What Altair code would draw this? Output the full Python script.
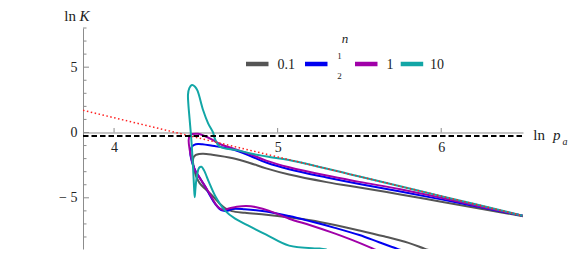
import altair as alt
import pandas as pd

# ---------------- data ----------------
X_MIN, X_MAX = 3.81, 6.5
Y_MIN, Y_MAX = -8.92, 8.0
W, H = 440, 221

series_names = ["0.1", "1/2", "1", "10"]
series_colors = ["#555555", "#0000f0", "#a000a8", "#12a6a6"]

# each curve is a parametric path: lower branch (from its clipped end) -> fold -> upper branch
x_01 = [5.95, 5.898, 5.8, 5.65, 5.5, 5.35, 5.2, 5.07, 4.93, 4.8, 4.72, 4.68, 4.646, 4.605, 4.56, 4.523,
        4.5, 4.488, 4.482, 4.486, 4.5, 4.52, 4.545, 4.6, 4.727, 4.83, 4.93, 5.07, 5.3, 5.5, 5.75, 6.0, 6.25, 6.5]
y_01 = [-9.1, -8.89, -8.45, -7.95, -7.5, -7.08, -6.72, -6.5, -6.3, -6.15, -6.02, -5.8, -5.45, -4.9, -4.35, -3.88,
        -3.3, -2.7, -2.2, -1.9, -1.72, -1.64, -1.62, -1.7, -1.97, -2.33, -2.75, -3.22, -3.8, -4.22, -4.74, -5.3, -5.85, -6.42]

x_half = [5.78, 5.729, 5.62, 5.5, 5.35, 5.2, 5.07, 4.93, 4.8, 4.727, 4.687, 4.655, 4.62, 4.59, 4.56, 4.53,
          4.5, 4.48, 4.468, 4.466, 4.475, 4.49, 4.513, 4.54, 4.6, 4.727, 4.83, 4.93, 5.07, 5.3, 5.5, 5.75, 6.0, 6.25, 6.5]
y_half = [-9.1, -8.89, -8.4, -7.85, -7.3, -6.8, -6.4, -6.05, -5.88, -5.85, -6.0, -5.95, -5.5, -4.9, -4.2, -3.6,
          -3.0, -2.4, -1.8, -1.4, -1.1, -0.95, -0.88, -0.9, -1.02, -1.3, -1.78, -2.3, -2.82, -3.45, -3.95, -4.52, -5.12, -5.75, -6.38]

x_one = [5.62, 5.583, 5.45, 5.33, 5.2, 5.07, 4.95, 4.87, 4.81, 4.75, 4.707, 4.665, 4.635, 4.605, 4.575, 4.544,
         4.515, 4.493, 4.475, 4.462, 4.456, 4.462, 4.48, 4.513, 4.55, 4.6, 4.65, 4.727, 4.83, 4.93, 5.07, 5.3, 5.5, 5.75, 6.0, 6.25, 6.5]
y_one = [-9.1, -8.89, -8.2, -7.65, -7.1, -6.6, -6.0, -5.72, -5.62, -5.68, -5.8, -5.92, -5.7, -5.15, -4.5, -3.88,
         -3.3, -2.86, -2.1, -1.3, -0.6, -0.25, -0.12, -0.1, -0.25, -0.55, -0.9, -1.22, -1.65, -2.15, -2.66, -3.3, -3.78, -4.35, -5.0, -5.7, -6.37]

x_ten = [5.3, 5.257, 5.07, 4.93, 4.83, 4.74, 4.68, 4.62, 4.58, 4.55, 4.534, 4.52, 4.508, 4.498, 4.493,
         4.489, 4.482, 4.472, 4.462, 4.454, 4.452, 4.46, 4.476, 4.495, 4.51, 4.544, 4.575, 4.605, 4.615, 4.646,
         4.75, 4.85, 4.95, 5.07, 5.5, 6.0, 6.5]
y_ten = [-8.95, -8.89, -8.66, -7.82, -7.19, -6.6, -6.0, -4.9, -3.8, -2.9, -2.62, -2.7, -3.2, -4.2, -4.95,
         -4.2, -2.5, -0.5, 1.0, 2.2, 2.9, 3.4, 3.63, 3.5, 3.2, 1.72, 0.7, 0.0, -0.44, -1.08,
         -1.35, -1.65, -1.87, -2.1, -3.37, -4.87, -6.37]

# red dotted asymptote and black dashed level
red_x = [3.81, 6.5]
red_y = [1.70, -6.37]
dash_x = [3.81, 6.5]
dash_y = [-0.27, -0.27]

# axis ticks
x_major_ticks = [4, 5, 6]
y_major_ticks = [-5, 0, 5]
y_minor_ticks = [-8, -7, -6, -4, -3, -2, -1, 1, 2, 3, 4, 6, 7, 8]

# ---------------- build tables ----------------
rows = []
for name, xs_, ys_ in [("0.1", x_01, y_01), ("1/2", x_half, y_half), ("1", x_one, y_one), ("10", x_ten, y_ten)]:
    for i, (a, b) in enumerate(zip(xs_, ys_)):
        rows.append({"x": a, "y": b, "n": name, "k": i})
curves = pd.DataFrame(rows)
red_df = pd.DataFrame({"x": red_x, "y": red_y})
dash_df = pd.DataFrame({"x": dash_x, "y": dash_y})

SERIF = "Liberation Serif"
AX = "#8c8c8c"
TXT = "#222222"
zero_pos = H * (Y_MAX - 0) / (Y_MAX - Y_MIN)

xs = alt.Scale(domain=[X_MIN, X_MAX], nice=False, zero=False)
ys = alt.Scale(domain=[Y_MIN, Y_MAX], nice=False, zero=False)

x_axis = alt.Axis(values=x_major_ticks, offset=-(H - zero_pos), ticks=False, grid=False, title=None,
                  format="d", domainColor=AX, domainWidth=1, labelFont=SERIF, labelFontSize=14,
                  labelColor=TXT, labelPadding=8, labelFlush=False)
y_axis = alt.Axis(values=y_major_ticks, ticks=False, grid=False, title=None,
                  domainColor=AX, domainWidth=1, labelFont=SERIF, labelFontSize=14,
                  labelColor=TXT, labelPadding=6,
                  labelExpr="datum.value < 0 ? '\u2212 ' + abs(datum.value) : datum.label")

lines = alt.Chart(curves).mark_line(clip=True, strokeWidth=2, interpolate="catmull-rom").encode(
    x=alt.X("x:Q", scale=xs, axis=x_axis),
    y=alt.Y("y:Q", scale=ys, axis=y_axis),
    color=alt.Color("n:N", scale=alt.Scale(domain=series_names, range=series_colors), legend=None),
    order="k:Q",
)

red = alt.Chart(red_df).mark_line(clip=True, color="#ff2020", strokeWidth=1.5, strokeDash=[1.5, 2.5]).encode(
    x=alt.X("x:Q", scale=xs), y=alt.Y("y:Q", scale=ys))
dash = alt.Chart(dash_df).mark_line(clip=True, color="black", strokeWidth=2, strokeDash=[5.5, 3]).encode(
    x=alt.X("x:Q", scale=xs), y=alt.Y("y:Q", scale=ys))

xt = alt.Chart(pd.DataFrame({"x": x_major_ticks})).mark_rule(color=AX, strokeWidth=1).encode(
    x=alt.X("x:Q", scale=xs), y=alt.value(zero_pos), y2=alt.value(zero_pos - 4.5))
ytM = alt.Chart(pd.DataFrame({"y": y_major_ticks})).mark_rule(color=AX, strokeWidth=1).encode(
    y=alt.Y("y:Q", scale=ys), x=alt.value(0), x2=alt.value(6))
ytm = alt.Chart(pd.DataFrame({"y": y_minor_ticks})).mark_rule(color=AX, strokeWidth=1).encode(
    y=alt.Y("y:Q", scale=ys), x=alt.value(0), x2=alt.value(3.5))

def txt(s, x, y, size=15, style="normal", align="left"):
    return alt.Chart(pd.DataFrame({"t": [s]})).mark_text(
        font=SERIF, fontSize=size, fontStyle=style, align=align, baseline="alphabetic", color=TXT
    ).encode(text="t:N", x=alt.value(x), y=alt.value(y))

labels = (txt("ln", -7, -7.5, align="right") + txt("K", -3.5, -7.5, style="italic")
          + txt("ln", 462, 112, align="right") + txt("p", 470, 112, style="italic")
          + txt("a", 479.5, 116.5, size=10, style="italic"))

# ---------------- legend (drawn like Mathematica's LineLegend) ----------------
LEG_Y = 36
swatch_left = [163, 222, 272, 317.7]
label_left = [194.5, 0, 303.5, 347]
legend_layers = [txt("n", 262, 14.5, size=13, style="italic", align="center")]
for name, col, sx, lx in zip(series_names, series_colors, swatch_left, label_left):
    legend_layers.append(
        alt.Chart(pd.DataFrame({"n": [name]})).mark_rule(color=col, strokeWidth=4.5).encode(
            x=alt.value(sx), x2=alt.value(sx + 22.5), y=alt.value(LEG_Y)))
    if name == "1/2":
        legend_layers.append(txt("1", 256.5, 30.5, size=9, align="center"))
        legend_layers.append(txt("2", 256.5, 50.5, size=9, align="center"))
    else:
        legend_layers.append(txt(name, lx, LEG_Y + 5, size=14))
legend = alt.layer(*legend_layers)

chart = alt.layer(lines, red, dash, xt, ytM, ytm, labels, legend).properties(
    width=W, height=H,
    autosize=alt.AutoSizeParams(type="none"),
    padding={"left": 75, "top": 20, "right": 50, "bottom": 17},
).configure_view(stroke=None)

chart.save("out.html", embed_options={"renderer": "svg", "actions": False})
